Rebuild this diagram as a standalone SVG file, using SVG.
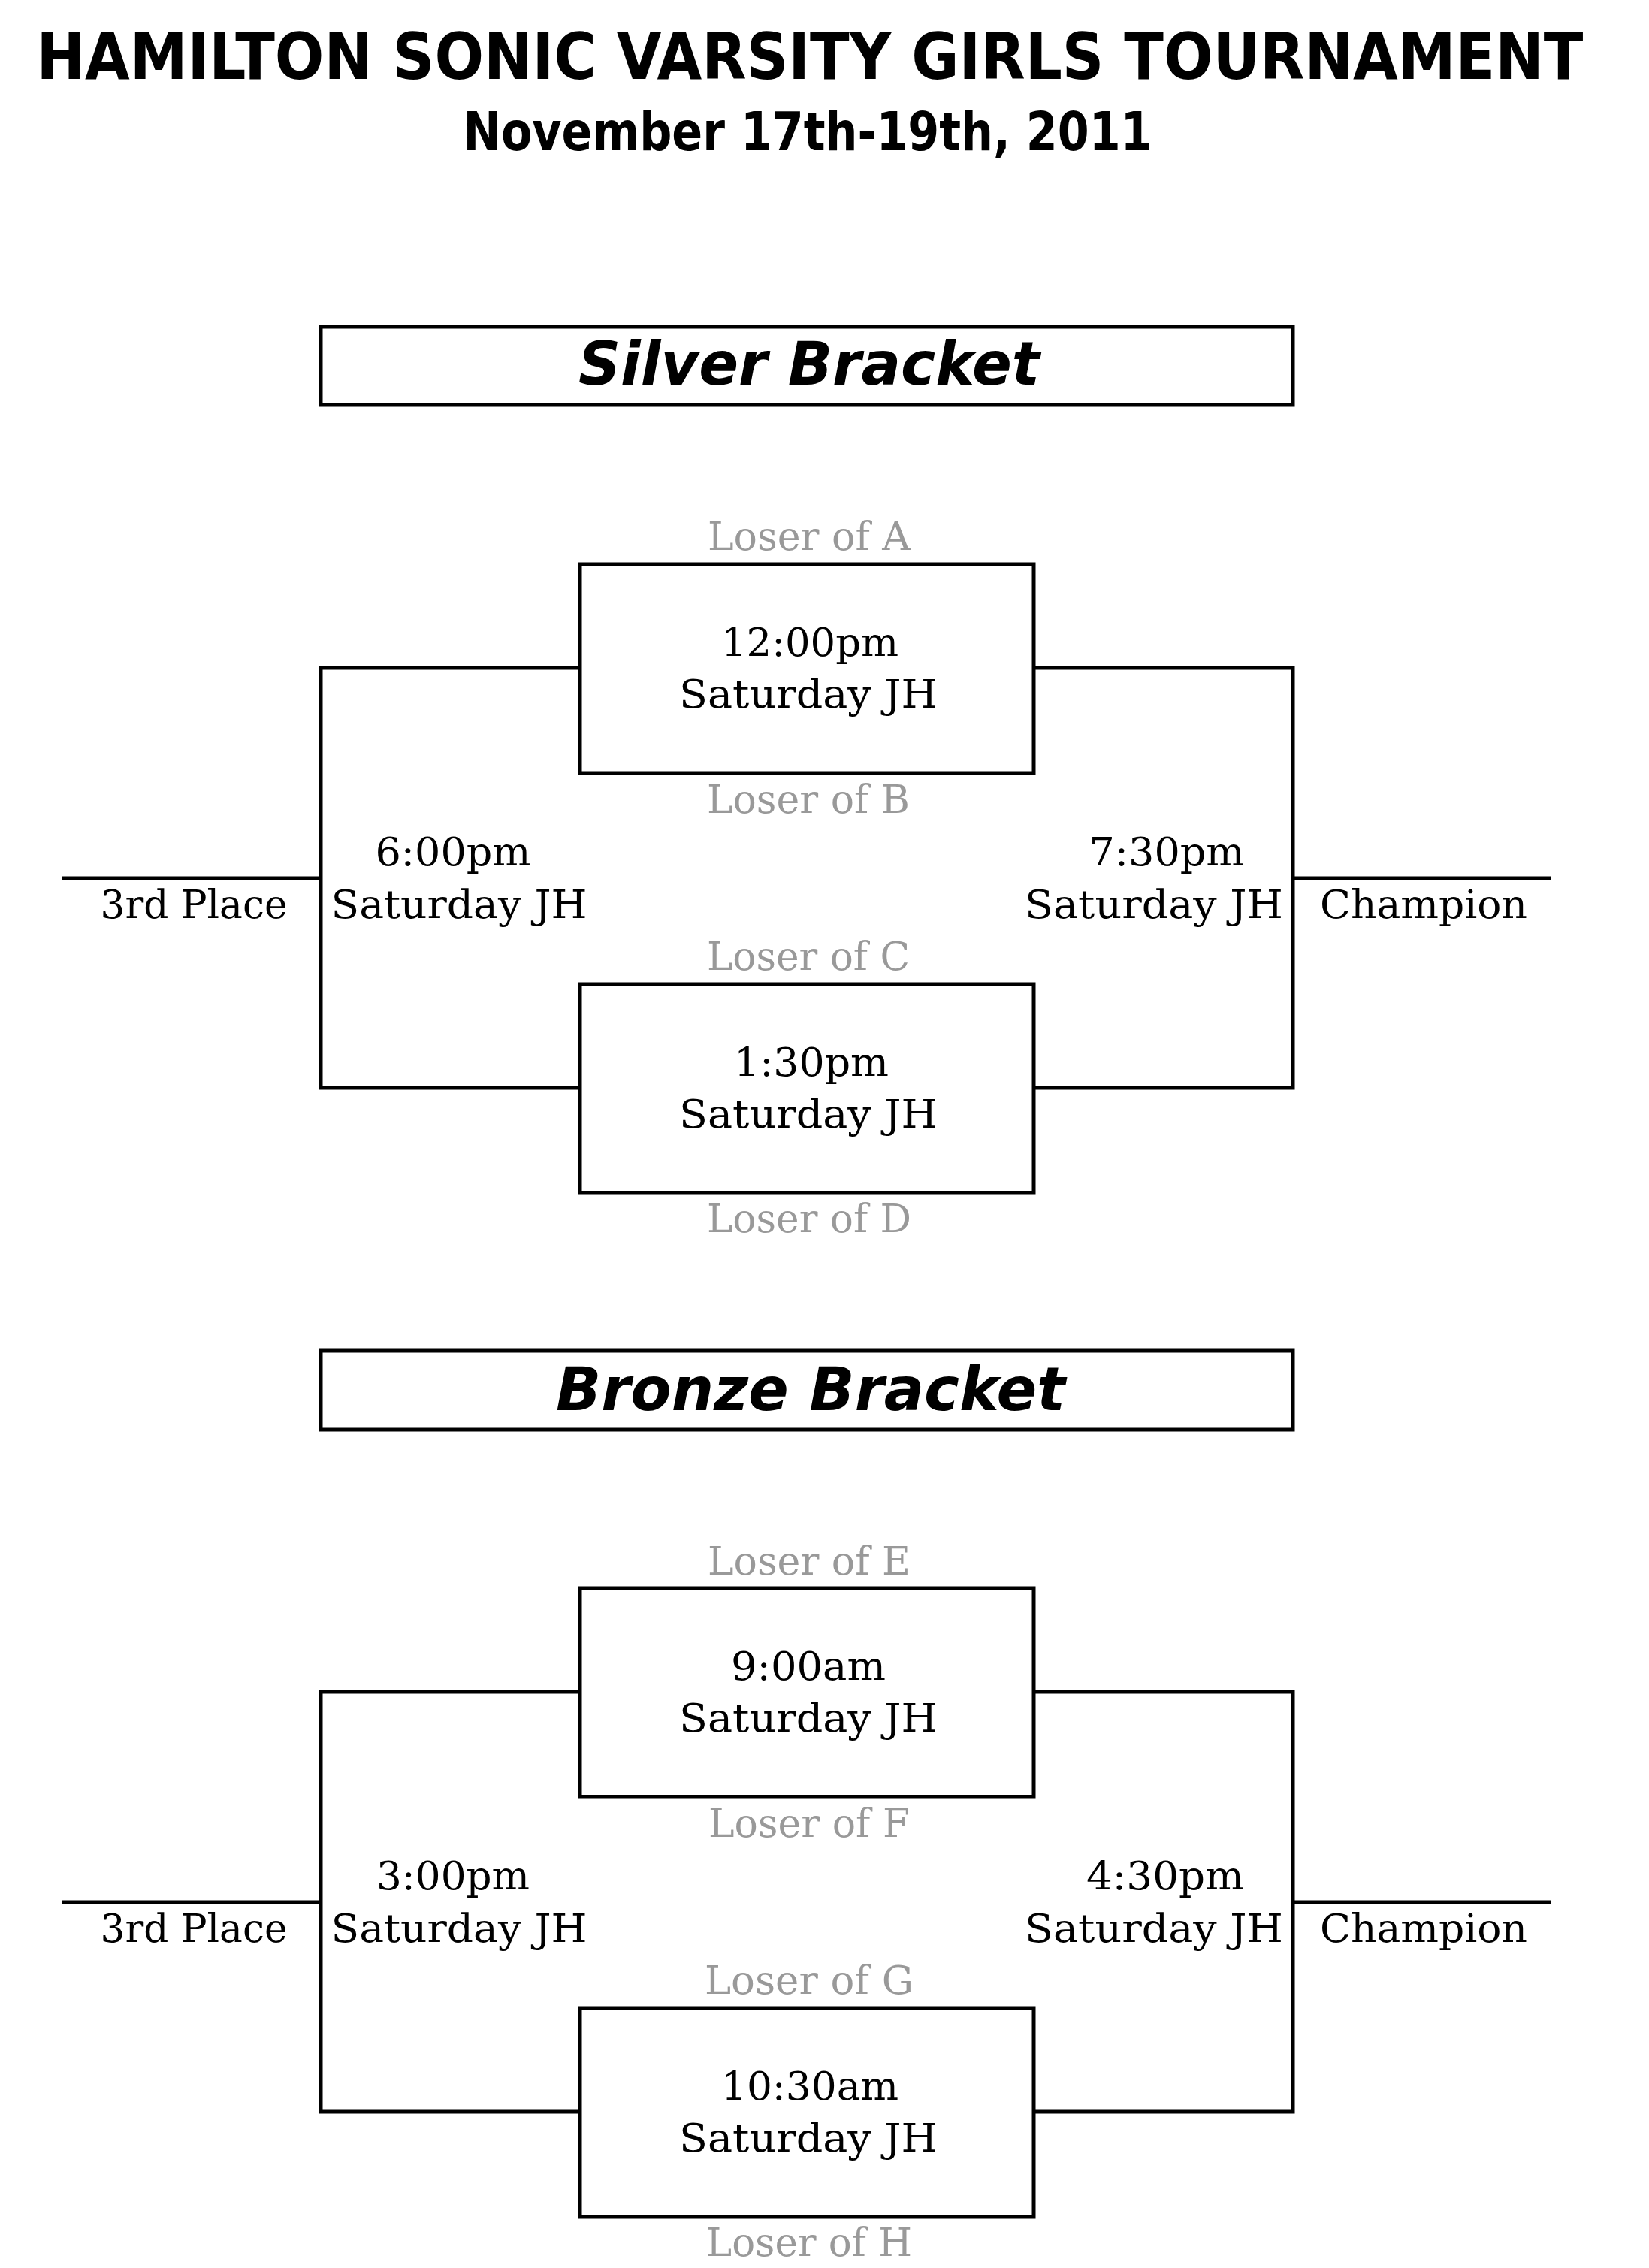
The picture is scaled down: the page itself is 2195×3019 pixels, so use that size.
<svg xmlns="http://www.w3.org/2000/svg" width="2195" height="3019" viewBox="0 0 2195 3019">
<style>
.bg{fill:#ffffff}
.box{fill:#ffffff;stroke:#000;stroke-width:5}
.ln{fill:none;stroke:#000;stroke-width:5}
.title{font-family:"DejaVu Sans Condensed","DejaVu Sans",sans-serif;font-weight:bold;fill:#000;text-anchor:middle}
.hdr{font-family:"DejaVu Sans Condensed","DejaVu Sans",sans-serif;font-weight:bold;font-style:italic;fill:#000;text-anchor:middle}
.t{font-family:"DejaVu Serif","Liberation Serif",serif;font-size:52px;fill:#000;text-anchor:middle}
.g{font-family:"DejaVu Serif","Liberation Serif",serif;font-size:52px;fill:#999999;text-anchor:middle}
</style>
<rect class="bg" x="0" y="0" width="2195" height="3019"/>

<g id="title">
<text class="title" x="1078" y="105" font-size="85" textLength="2059" lengthAdjust="spacingAndGlyphs">HAMILTON SONIC VARSITY GIRLS TOURNAMENT</text>
<text class="title" x="1075" y="200" font-size="71" textLength="917" lengthAdjust="spacingAndGlyphs">November 17th-19th, 2011</text>
</g>

<g id="connectors">
<path class="ln" d="M772 889 H427 V1448 H772"/>
<path class="ln" d="M1376 889 H1721 V1448 H1376"/>
<path class="ln" d="M83 1169 H427"/>
<path class="ln" d="M1721 1169 H2065"/>
<path class="ln" d="M772 2252 H427 V2811 H772"/>
<path class="ln" d="M1376 2252 H1721 V2811 H1376"/>
<path class="ln" d="M83 2532 H427"/>
<path class="ln" d="M1721 2532 H2065"/>
</g>

<g id="silver-header">
<rect class="box" x="427" y="435" width="1294" height="104"/>
<text class="hdr" x="1077" y="512" font-size="80" textLength="614" lengthAdjust="spacingAndGlyphs">Silver Bracket</text>
</g>

<g id="silver-game1">
<text class="g" x="1077" y="732" textLength="270" lengthAdjust="spacingAndGlyphs">Loser of A</text>
<rect class="box" x="772" y="751" width="604" height="278"/>
<text class="t" x="1078" y="873" textLength="236" lengthAdjust="spacingAndGlyphs">12:00pm</text>
<text class="t" x="1076" y="942" textLength="344" lengthAdjust="spacingAndGlyphs">Saturday JH</text>
<text class="g" x="1076" y="1082" textLength="270" lengthAdjust="spacingAndGlyphs">Loser of B</text>
</g>

<g id="silver-game2">
<text class="g" x="1076" y="1291" textLength="270" lengthAdjust="spacingAndGlyphs">Loser of C</text>
<rect class="box" x="772" y="1310" width="604" height="278"/>
<text class="t" x="1080" y="1432" textLength="206" lengthAdjust="spacingAndGlyphs">1:30pm</text>
<text class="t" x="1076" y="1501" textLength="344" lengthAdjust="spacingAndGlyphs">Saturday JH</text>
<text class="g" x="1077" y="1640" textLength="272" lengthAdjust="spacingAndGlyphs">Loser of D</text>
</g>

<g id="silver-third">
<text class="t" x="603" y="1152" textLength="207" lengthAdjust="spacingAndGlyphs">6:00pm</text>
<text class="t" x="611" y="1222" textLength="341" lengthAdjust="spacingAndGlyphs">Saturday JH</text>
<text class="t" x="258" y="1222" textLength="249" lengthAdjust="spacingAndGlyphs">3rd Place</text>
</g>

<g id="silver-final">
<text class="t" x="1553" y="1152" textLength="207" lengthAdjust="spacingAndGlyphs">7:30pm</text>
<text class="t" x="1536" y="1222" textLength="344" lengthAdjust="spacingAndGlyphs">Saturday JH</text>
<text class="t" x="1895" y="1222" textLength="276" lengthAdjust="spacingAndGlyphs">Champion</text>
</g>

<g id="bronze-header">
<rect class="box" x="427" y="1798" width="1294" height="105"/>
<text class="hdr" x="1079" y="1877" font-size="80" textLength="678" lengthAdjust="spacingAndGlyphs">Bronze Bracket</text>
</g>

<g id="bronze-game1">
<text class="g" x="1077" y="2096" textLength="270" lengthAdjust="spacingAndGlyphs">Loser of E</text>
<rect class="box" x="772" y="2114" width="604" height="278"/>
<text class="t" x="1076" y="2236" textLength="206" lengthAdjust="spacingAndGlyphs">9:00am</text>
<text class="t" x="1076" y="2305" textLength="344" lengthAdjust="spacingAndGlyphs">Saturday JH</text>
<text class="g" x="1077" y="2445" textLength="268" lengthAdjust="spacingAndGlyphs">Loser of F</text>
</g>

<g id="bronze-game2">
<text class="g" x="1077" y="2654" textLength="278" lengthAdjust="spacingAndGlyphs">Loser of G</text>
<rect class="box" x="772" y="2673" width="604" height="278"/>
<text class="t" x="1078" y="2795" textLength="236" lengthAdjust="spacingAndGlyphs">10:30am</text>
<text class="t" x="1076" y="2864" textLength="344" lengthAdjust="spacingAndGlyphs">Saturday JH</text>
<text class="g" x="1077" y="3003" textLength="274" lengthAdjust="spacingAndGlyphs">Loser of H</text>
</g>

<g id="bronze-third">
<text class="t" x="603" y="2515" textLength="204" lengthAdjust="spacingAndGlyphs">3:00pm</text>
<text class="t" x="611" y="2585" textLength="341" lengthAdjust="spacingAndGlyphs">Saturday JH</text>
<text class="t" x="258" y="2585" textLength="249" lengthAdjust="spacingAndGlyphs">3rd Place</text>
</g>

<g id="bronze-final">
<text class="t" x="1551" y="2515" textLength="210" lengthAdjust="spacingAndGlyphs">4:30pm</text>
<text class="t" x="1536" y="2585" textLength="344" lengthAdjust="spacingAndGlyphs">Saturday JH</text>
<text class="t" x="1895" y="2585" textLength="276" lengthAdjust="spacingAndGlyphs">Champion</text>
</g>
</svg>
